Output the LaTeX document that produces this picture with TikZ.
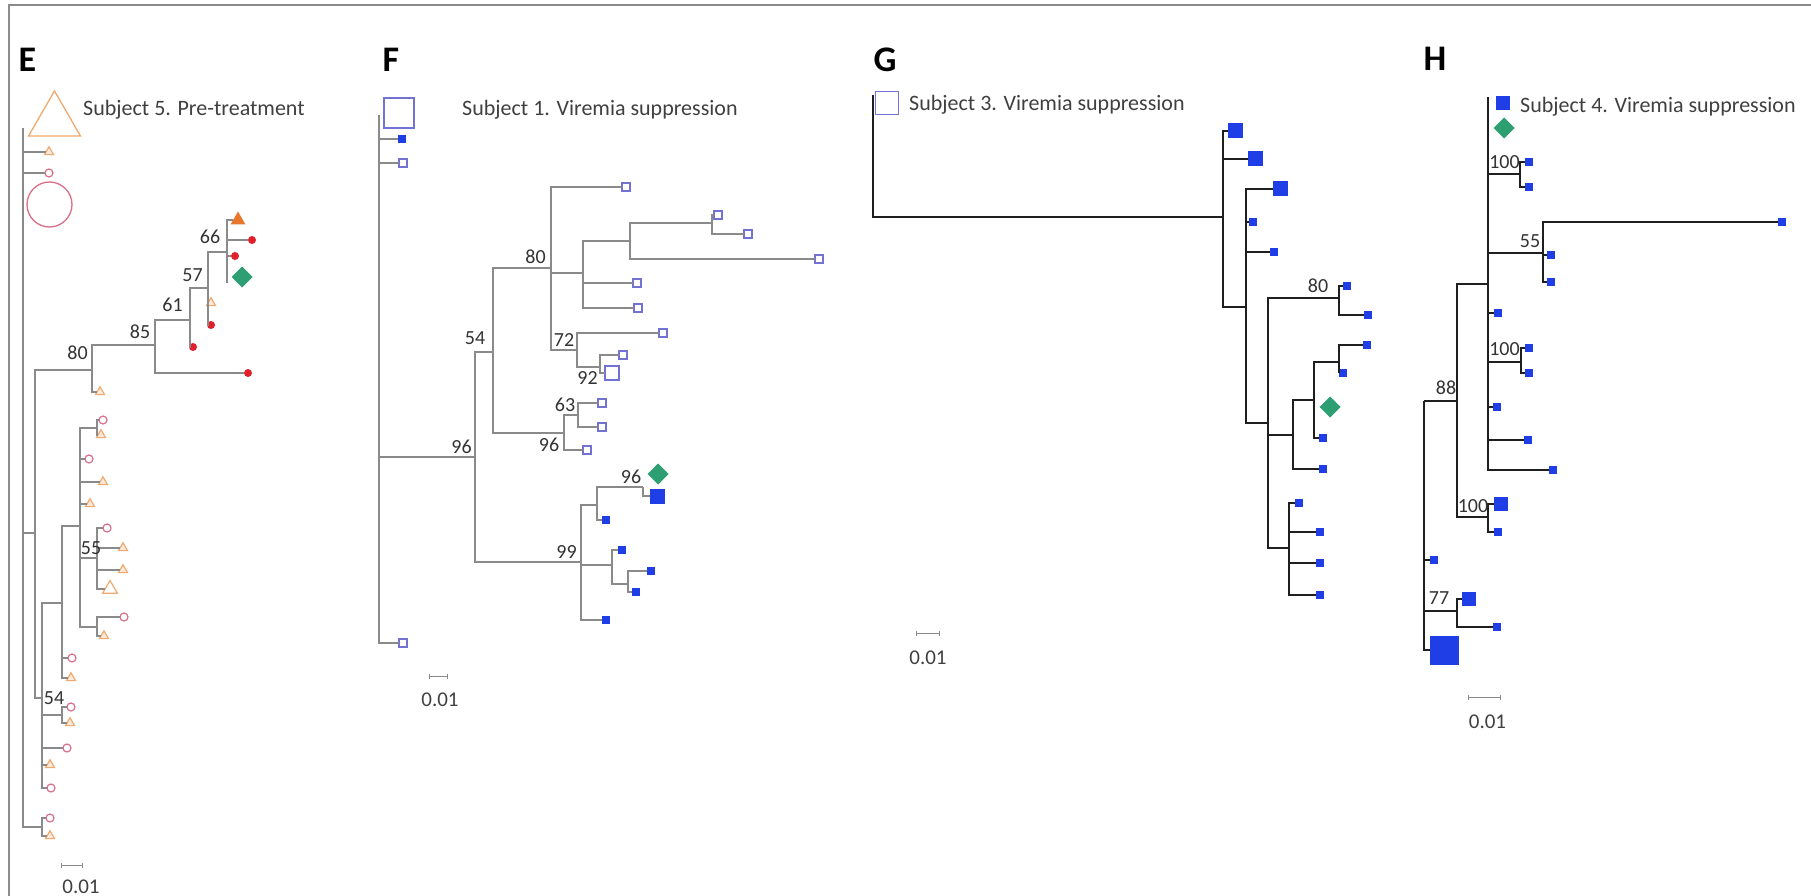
\documentclass[tikz,border=0pt]{standalone}
\usepackage{fontspec}
\setmainfont{Carlito}
\usetikzlibrary{shapes.geometric,arrows.meta}
\definecolor{lgray}{HTML}{8A8A8A}
\definecolor{framec}{HTML}{8C8C8C}
\definecolor{pinkc}{HTML}{D9708A}
\definecolor{orgc}{HTML}{F0AA70}
\definecolor{redc}{HTML}{E0202A}
\definecolor{orgf}{HTML}{E8772E}
\definecolor{greenc}{HTML}{2E9E73}
\definecolor{lavc}{HTML}{7272D4}
\definecolor{bluec}{HTML}{1F3EE6}
\definecolor{txtc}{HTML}{404040}
\begin{document}
\begin{tikzpicture}[x=1pt,y=-1pt,
  trE/.style={draw=lgray, line width=1.4pt},
  trG/.style={draw=black!88, line width=2.4pt},
  leaf/.style={inner sep=0pt, outer sep=0pt},
  oc/.style={leaf, circle, draw=pinkc, line width=1.2pt, minimum size=8pt},
  ot/.style={leaf, regular polygon, regular polygon sides=3, draw=orgc, fill=orgc!25, line width=1.2pt, minimum size=10.5pt},
  rd/.style={leaf, circle, fill=redc, minimum size=8pt},
  ft/.style={leaf, regular polygon, regular polygon sides=3, fill=orgf, minimum size=17pt},
  gd/.style={leaf, diamond, fill=greenc, minimum size=21pt},
  os/.style={leaf, rectangle, draw=lavc, line width=1.2pt, minimum size=8pt},
  bs/.style={leaf, rectangle, fill=bluec, minimum size=8pt},
  lab/.style={font=\fontsize{20}{22}\selectfont, text=black!80, inner sep=0pt},
  ttl/.style={font=\fontsize{22}{26}\selectfont, text=txtc, inner sep=0pt, anchor=west},
  pan/.style={font=\fontsize{36}{40}\selectfont\bfseries, inner sep=0pt},
  sbar/.style={draw=lgray, line width=0.9pt, {Bar[width=5pt]}-{Bar[width=5pt]}},
  sbtxt/.style={font=\fontsize{21}{24}\selectfont, text=txtc, inner sep=0pt}
]
\useasboundingbox (0,0) rectangle (1811,896);
\fill[white] (0,0) rectangle (1811,896);
% frame
\coordinate (frTL) at (9,5);
\coordinate (frTR) at (1811,5);
\coordinate (frBL) at (9,896);
\draw[draw=framec, line width=2pt] (frTR) -- (frTL) -- (frBL);

% ================= Panel E =================
\node[pan] (pE) at (27.5,60) {E};
\node[ttl] (tE) at (83,110) {Subject 5. Pre-treatment};
\node[leaf, regular polygon, regular polygon sides=3, draw=orgc, line width=1.3pt, minimum size=60pt] (eT0) at (54.5,121) {};
\node[ot] (eT1) at (49,152) {};
\node[oc] (eC1) at (49,173) {};
\node[leaf, circle, draw=pinkc, line width=1.3pt, minimum size=45pt] (eC0) at (49.5,204.5) {};
\coordinate (eR) at (23,128);
\coordinate (eA) at (35,533);
\coordinate (eZ) at (42,827);
\coordinate (e80) at (92,370);
\coordinate (eB) at (42,698);
\coordinate (e85) at (155,345);
\coordinate (e61) at (190,320);
\coordinate (e57) at (208,288);
\coordinate (e66) at (227,252);
\coordinate (e66b) at (227,283);
\node[rd] (eR1) at (248,373) {};
\node[rd] (eR2) at (193,347) {};
\node[ot] (eT2) at (211,303) {};
\node[rd] (eR3) at (211,325) {};
\node[ft] (eF1) at (238,220) {};
\node[rd] (eR4) at (252,240) {};
\node[rd] (eR5) at (235,256) {};
\node[gd] (eG1) at (242,277) {};
\node[ot] (eT3) at (100,392) {};
\coordinate (eC) at (62,603);
\coordinate (e54) at (62,715);
\node[oc] (eC2) at (67,748) {};
\node[ot] (eT4) at (50,765) {};
\node[oc] (eC3) at (51,788) {};
\coordinate (eD) at (80,526);
\node[oc] (eC4) at (72,658) {};
\node[ot] (eT5) at (71,678) {};
\coordinate (eE) at (97,428);
\node[oc] (eC5) at (89,459) {};
\node[ot] (eT6) at (103,482) {};
\node[ot] (eT7) at (90,504) {};
\coordinate (e55) at (97,558);
\coordinate (eF) at (97,627);
\node[oc] (eC6) at (103,420) {};
\node[ot] (eT8) at (101,435) {};
\node[oc] (eC7) at (107,528) {};
\node[ot] (eT9) at (123,548) {};
\node[ot] (eT10) at (123,570) {};
\node[ot, fill=none, minimum size=17pt] (eT11) at (110,589) {};
\node[oc] (eC8) at (124,617) {};
\node[ot] (eT12) at (104,636) {};
\node[oc] (eC9) at (71,707) {};
\node[ot] (eT13) at (70,723) {};
\node[oc] (eC10) at (50,818) {};
\node[ot] (eT14) at (50,836) {};
\draw[trE] (eR) |- (eT1) (eR) |- (eC1) (eR) |- (eA) (eR) |- (eZ)
  (eA) |- (e80) (eA) |- (eB)
  (e80) |- (e85) (e80) |- (eT3)
  (e85) |- (e61) (e85) |- (eR1)
  (e61) |- (e57) (e61) |- (eR2)
  (e57) |- (e66) (e57) |- (eT2) (e57) |- (eR3)
  (e66) |- (eF1) (e66) |- (eR4) (e66) |- (eR5) (e66) -- (e66b)
  (eB) |- (eC) (eB) |- (e54) (eB) |- (eC2) (eB) |- (eT4) (eB) |- (eC3)
  (eC) |- (eD) (eC) |- (eC4) (eC) |- (eT5)
  (eD) |- (eE) (eD) |- (eC5) (eD) |- (eT6) (eD) |- (eT7) (eD) |- (e55) (eD) |- (eF)
  (eE) |- (eC6) (eE) |- (eT8)
  (e55) |- (eC7) (e55) |- (eT9) (e55) |- (eT10) (e55) |- (eT11)
  (eF) |- (eC8) (eF) |- (eT12)
  (e54) |- (eC9) (e54) |- (eT13)
  (eZ) |- (eC10) (eZ) |- (eT14);
\node[lab] (lE80) at (77.5,353) {80};
\node[lab] (lE85) at (140,332) {85};
\node[lab] (lE61) at (172.5,305) {61};
\node[lab] (lE57) at (192.5,275) {57};
\node[lab] (lE66) at (210,237) {66};
\node[lab] (lE55) at (91,548) {55};
\node[lab] (lE54) at (54,698) {54};
\coordinate (sbE1) at (61,865);
\coordinate (sbE2) at (83,865);
\draw[sbar] (sbE1) -- (sbE2);
\node[sbtxt] (sbEt) at (81,887) {0.01};

% ================= Panel F =================
\node[pan] (pF) at (391,60) {F};
\node[ttl] (tF) at (462,110) {Subject 1. Viremia suppression};
\coordinate (fR) at (379,115);
\node[os, minimum size=30pt] (fS0) at (399,113) {};
\node[bs] (fB1) at (402,139) {};
\node[os] (fS1) at (403,163) {};
\coordinate (f96a) at (475,457);
\node[os] (fS2) at (403,643) {};
\coordinate (f54) at (493,352);
\coordinate (f99) at (581,562);
\coordinate (f80) at (551,268);
\coordinate (f96b) at (564,433);
\node[os] (fS3) at (626,187) {};
\coordinate (fA) at (583,273);
\coordinate (f72) at (577,350);
\coordinate (fB) at (630,241);
\node[os] (fS4) at (637,283) {};
\node[os] (fS5) at (638,308) {};
\coordinate (fC) at (712,223);
\node[os] (fS6) at (819,259) {};
\node[os] (fS7) at (718,215) {};
\node[os] (fS8) at (748,234) {};
\node[os] (fS9) at (663,333) {};
\coordinate (f92) at (600,367);
\node[os] (fS10) at (623,355) {};
\node[os, minimum size=14pt] (fS11) at (612,373) {};
\coordinate (f63) at (578,415);
\node[os] (fS12) at (587,450) {};
\node[os] (fS13) at (602,403) {};
\node[os] (fS14) at (602,427) {};
\coordinate (fD) at (597,505);
\coordinate (fE) at (612,565);
\node[bs] (fB2) at (606,620) {};
\coordinate (f96c) at (643,487);
\node[bs] (fB3) at (606,520) {};
\node[gd] (fG1) at (658,474) {};
\node[bs, minimum size=15pt] (fB4) at (657,496) {};
\node[bs] (fB5) at (622,550) {};
\coordinate (fF) at (628,584);
\node[bs] (fB6) at (651,571) {};
\node[bs] (fB7) at (636,592) {};
\draw[trE] (fR) |- (fB1) (fR) |- (fS1) (fR) |- (f96a) (fR) |- (fS2)
  (f96a) |- (f54) (f96a) |- (f99)
  (f54) |- (f80) (f54) |- (f96b)
  (f80) |- (fS3) (f80) |- (fA) (f80) |- (f72)
  (fA) |- (fB) (fA) |- (fS4) (fA) |- (fS5)
  (fB) |- (fC) (fB) |- (fS6)
  (fC) |- (fS7) (fC) |- (fS8)
  (f72) |- (fS9) (f72) |- (f92)
  (f92) |- (fS10) (f92) |- (fS11)
  (f96b) |- (f63) (f96b) |- (fS12)
  (f63) |- (fS13) (f63) |- (fS14)
  (f99) |- (fD) (f99) |- (fE) (f99) |- (fB2)
  (fD) |- (f96c) (fD) |- (fB3)
  (f96c) |- (fB4)
  (fE) |- (fB5) (fE) |- (fF)
  (fF) |- (fB6) (fF) |- (fB7);
\node[lab] (lF96a) at (461.5,447) {96};
\node[lab] (lF54) at (475,338) {54};
\node[lab] (lF80) at (535.5,257) {80};
\node[lab] (lF72) at (564,340) {72};
\node[lab] (lF92) at (587.5,378) {92};
\node[lab] (lF63) at (565,405) {63};
\node[lab] (lF96b) at (549,445) {96};
\node[lab] (lF99) at (566.5,552) {99};
\node[lab] (lF96c) at (631,477) {96};
\coordinate (sbF1) at (429,676);
\coordinate (sbF2) at (448,676);
\draw[sbar] (sbF1) -- (sbF2);
\node[sbtxt] (sbFt) at (440,700) {0.01};

% ================= Panel G =================
\node[pan] (pG) at (885,60) {G};
\node[ttl] (tG) at (909,105) {Subject 3. Viremia suppression};
\coordinate (gR) at (873,95);
\node[os, minimum size=23pt] (gS0) at (887,103) {};
\coordinate (gN1) at (1223,217);
\node[bs, minimum size=15pt] (gB1) at (1235,131) {};
\node[bs, minimum size=15pt] (gB2) at (1255,159) {};
\coordinate (gN2) at (1246,307);
\node[bs, minimum size=15pt] (gB3) at (1280,189) {};
\node[bs] (gB4) at (1253,222) {};
\node[bs] (gB5) at (1274,252) {};
\coordinate (gN3) at (1268,423);
\coordinate (g80) at (1339,298);
\coordinate (gN4) at (1293,435);
\coordinate (gN5) at (1289,548);
\node[bs] (gB6) at (1347,286) {};
\node[bs] (gB7) at (1368,315) {};
\coordinate (gN6) at (1314,400);
\node[bs] (gB8) at (1323,469) {};
\coordinate (gN7) at (1339,362);
\node[gd] (gG1) at (1330,407) {};
\node[bs] (gB9) at (1323,438) {};
\node[bs] (gB10) at (1367,345) {};
\node[bs] (gB11) at (1343,373) {};
\node[bs] (gB12) at (1299,503) {};
\node[bs] (gB13) at (1320,532) {};
\node[bs] (gB14) at (1320,563) {};
\node[bs] (gB15) at (1320,595) {};
\draw[trG] (gR) |- (gN1)
  (gN1) |- (gB1) (gN1) |- (gB2) (gN1) |- (gN2)
  (gN2) |- (gB3) (gN2) |- (gB4) (gN2) |- (gB5) (gN2) |- (gN3)
  (gN3) |- (g80) (gN3) |- (gN4) (gN3) |- (gN5)
  (g80) |- (gB6) (g80) |- (gB7)
  (gN4) |- (gN6) (gN4) |- (gB8)
  (gN6) |- (gN7) (gN6) |- (gB9)
  (gN7) |- (gB10) (gN7) |- (gB11)
  (gN5) |- (gB12) (gN5) |- (gB13) (gN5) |- (gB14) (gN5) |- (gB15);
\node[lab] (lG80) at (1318,286) {80};
\coordinate (sbG1) at (916,633);
\coordinate (sbG2) at (940,633);
\draw[sbar] (sbG1) -- (sbG2);
\node[sbtxt] (sbGt) at (928,658) {0.01};

% ================= Panel H =================
\node[pan] (pH) at (1435,59) {H};
\node[ttl] (tH) at (1520,107) {Subject 4. Viremia suppression};
\coordinate (hQ) at (1424,401);
\coordinate (hP) at (1457,401);
\coordinate (hM) at (1488,284);
\coordinate (hMtop) at (1488,97);
\coordinate (h100c) at (1488,517);
\coordinate (h77) at (1457,611);
\coordinate (h100a) at (1520,174);
\coordinate (h55) at (1543,253);
\coordinate (h100b) at (1521,362);
\node[bs] (hB1) at (1434,560) {};
\node[bs, minimum size=29pt] (hB2) at (1444,650) {};
\node[bs, minimum size=14pt] (hB3) at (1503,103) {};
\node[gd] (hG1) at (1504,128) {};
\node[bs] (hB4) at (1498,313) {};
\node[bs] (hB5) at (1497,407) {};
\node[bs] (hB6) at (1528,440) {};
\node[bs] (hB7) at (1553,470) {};
\node[bs] (hB8) at (1529,162) {};
\node[bs] (hB9) at (1529,187) {};
\node[bs] (hB10) at (1782,222) {};
\node[bs] (hB11) at (1551,255) {};
\node[bs] (hB12) at (1551,282) {};
\node[bs] (hB13) at (1529,348) {};
\node[bs] (hB14) at (1529,373) {};
\node[bs, minimum size=14pt] (hB15) at (1501,504) {};
\node[bs] (hB16) at (1498,532) {};
\node[bs, minimum size=14pt] (hB17) at (1469,599) {};
\node[bs] (hB18) at (1497,627) {};
\draw[trG] (hQ) -- (hP) (hQ) |- (hB1) (hQ) |- (h77) (hQ) |- (hB2)
  (hP) |- (hM) (hP) |- (h100c)
  (hM) -- (hMtop) (hM) |- (h100a) (hM) |- (h55) (hM) |- (hB4)
  (hM) |- (h100b) (hM) |- (hB5) (hM) |- (hB6) (hM) |- (hB7)
  (h100a) |- (hB8) (h100a) |- (hB9)
  (h55) |- (hB10) (h55) |- (hB11) (h55) |- (hB12)
  (h100b) |- (hB13) (h100b) |- (hB14)
  (h100c) |- (hB15) (h100c) |- (hB16)
  (h77) |- (hB17) (h77) |- (hB18);
\node[lab] (lH100a) at (1504.5,162) {100};
\node[lab] (lH55) at (1530,241) {55};
\node[lab] (lH100b) at (1504.5,349) {100};
\node[lab] (lH100c) at (1473,506) {100};
\node[lab] (lH88) at (1446,388) {88};
\node[lab] (lH77) at (1439,598) {77};
\coordinate (sbH1) at (1468,697);
\coordinate (sbH2) at (1501,697);
\draw[sbar] (sbH1) -- (sbH2);
\node[sbtxt] (sbHt) at (1487.5,722) {0.01};
\end{tikzpicture}
\end{document}
